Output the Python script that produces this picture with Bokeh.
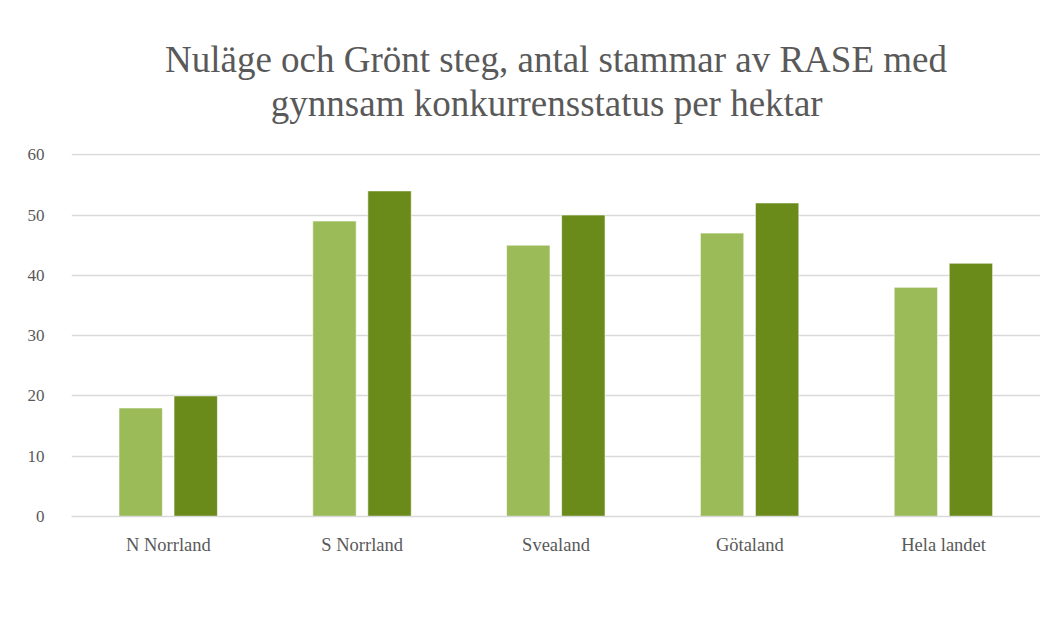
from bokeh.plotting import figure
from bokeh.models import ColumnDataSource, FactorRange, Range1d, CategoricalAxis, Legend, LegendItem
from bokeh.transform import dodge
from bokeh.embed import file_html
from bokeh.resources import INLINE

categories = ["N Norrland", "S Norrland", "Svealand", "Götaland", "Hela landet"]
nulage = [18, 49, 45, 47, 38]
gront = [20, 54, 50, 52, 42]
series_names = ["Nuläge gynnsam status", "Grönt steg gynnsam status"]
title_lines = ["Nuläge och Grönt steg, antal stammar av RASE med",
               "gynnsam  konkurrensstatus  per hektar"]
y_ticks = [0, 10, 20, 30, 40, 50, 60]

FONT = "Liberation Serif"
TXT = "#595959"
GRID = "#d9d9d9"
C1 = "#9bbb59"
C2 = "#6a8a1a"

src = ColumnDataSource(dict(cat=categories, a=nulage, b=gront))

p = figure(x_range=FactorRange(*categories, range_padding=0), y_range=Range1d(0, 60.2),
           frame_width=969, frame_height=363, output_backend="svg", toolbar_location=None,
           min_border_left=71, min_border_right=0, min_border_top=153, min_border_bottom=0)
p.outline_line_color = None

r1 = p.vbar(x=dodge("cat", -0.143, range=p.x_range), top="a", width=0.224, source=src,
            fill_color=C1, line_color="white", line_width=0.6)
r2 = p.vbar(x=dodge("cat", 0.141, range=p.x_range), top="b", width=0.224, source=src,
            fill_color=C2, line_color="white", line_width=0.6)


def title_axis(text, standoff):
    return CategoricalAxis(axis_line_color=None,
                           major_tick_line_color=None, minor_tick_line_color=None,
                           major_tick_out=0, minor_tick_out=0, major_label_standoff=0,
                           major_label_text_font_size="0px", major_label_text_alpha=0,
                           axis_label=text, axis_label_standoff=standoff,
                           axis_label_text_font=FONT, axis_label_text_font_size="37px",
                           axis_label_text_font_style="normal", axis_label_text_color=TXT)


p.add_layout(title_axis(title_lines[1], 30), "above")
p.add_layout(title_axis(title_lines[0], 0), "above")

p.yaxis.ticker = y_ticks
p.yaxis.axis_line_color = None
p.yaxis.major_tick_line_color = None
p.yaxis.minor_tick_line_color = None
p.yaxis.major_label_standoff = 21
p.yaxis.major_label_text_font = FONT
p.yaxis.major_label_text_font_size = "17px"
p.yaxis.major_label_text_color = TXT

xa = p.below[0]
xa.axis_line_color = GRID
xa.axis_line_width = 1.5
xa.major_tick_line_color = None
xa.minor_tick_line_color = None
xa.major_label_standoff = 12
xa.major_label_text_font = FONT
xa.major_label_text_font_size = "18.5px"
xa.major_label_text_color = TXT

p.xgrid.grid_line_color = None
p.ygrid.grid_line_color = GRID
p.ygrid.grid_line_width = 1.5

legend = Legend(items=[LegendItem(label=series_names[0], renderers=[r1]),
                       LegendItem(label=series_names[1], renderers=[r2])],
                orientation="horizontal", location="top_center",
                label_text_font=FONT, label_text_font_size="22px", label_text_color=TXT,
                glyph_width=15, glyph_height=15, spacing=40, label_standoff=3,
                border_line_color=None, background_fill_alpha=0, margin=20, padding=0)
p.add_layout(legend, "below")

open("out.html", "w").write(file_html(p, INLINE))
